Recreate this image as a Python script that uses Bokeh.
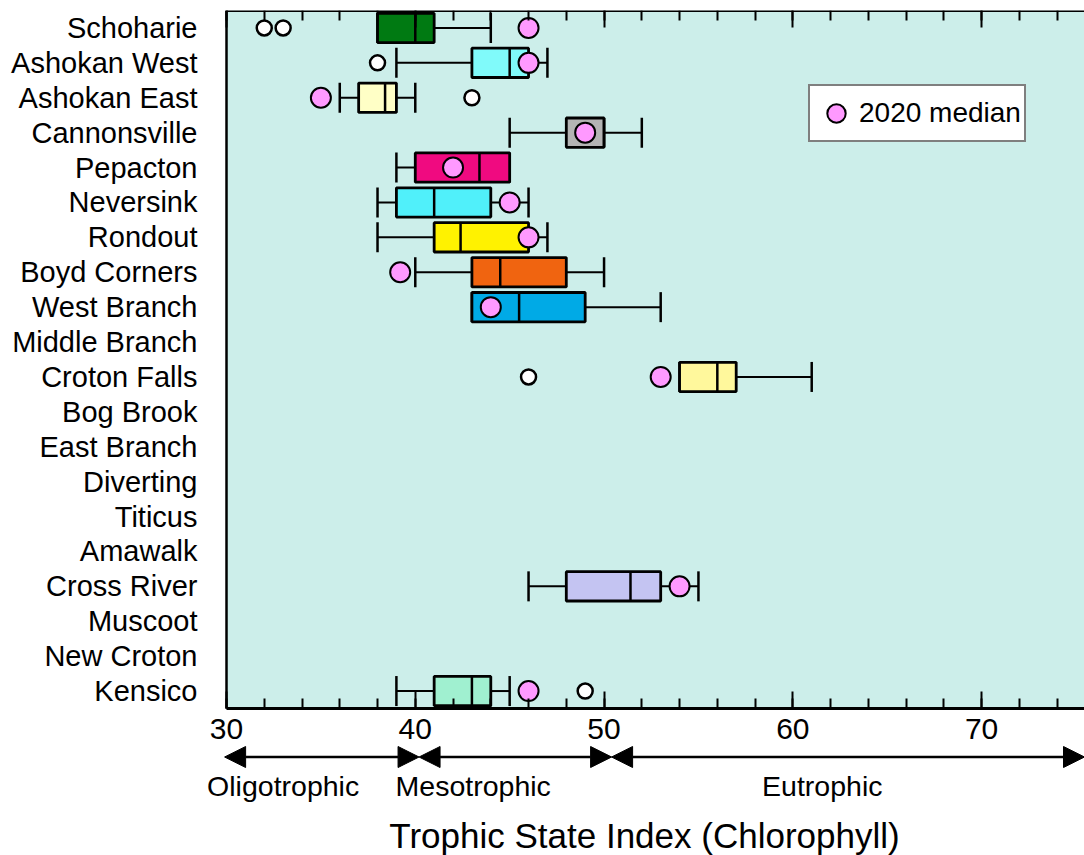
from bokeh.plotting import figure
from bokeh.models import (ColumnDataSource, Range1d, LinearAxis, FixedTicker, BoxAnnotation,
                          Arrow, NormalHead, Legend, LegendItem)
from bokeh.transform import dodge
from bokeh.core.properties import value
from bokeh.embed import file_html
from bokeh.resources import INLINE

# ---------------- data ----------------
reservoirs = ["Schoharie", "Ashokan West", "Ashokan East", "Cannonsville", "Pepacton",
              "Neversink", "Rondout", "Boyd Corners", "West Branch", "Middle Branch",
              "Croton Falls", "Bog Brook", "East Branch", "Diverting", "Titicus",
              "Amawalk", "Cross River", "Muscoot", "New Croton", "Kensico"]

box_names = ["Schoharie", "Ashokan West", "Ashokan East", "Cannonsville", "Pepacton",
             "Neversink", "Rondout", "Boyd Corners", "West Branch", "Croton Falls",
             "Cross River", "Kensico"]
whisker_low = [38, 39, 36, 45, 39, 38, 38, 40, 43, 54, 46, 39]
q1 = [38, 43, 37, 48, 40, 39, 41, 43, 43, 54, 48, 41]
median = [40, 45, 38.4, 50, 43.4, 41, 42.4, 44.5, 45.5, 56, 51.4, 43]
q3 = [41, 46, 39, 50, 45, 44, 46, 48, 49, 57, 53, 44]
whisker_high = [44, 47, 40, 52, 45, 46, 47, 50, 53, 61, 55, 45]
median_2020 = [46, 46, 35, 49, 42, 45, 46, 39.2, 44, 53, 54, 46]
box_colors = ["#007A12", "#80FAFA", "#FFFFC6", "#B4B4B4", "#F00A80", "#50F0FA",
              "#FFF200", "#F06410", "#00AAE6", "#FFF89C", "#C4C4F2", "#A0F0D0"]

outlier_names = ["Schoharie", "Schoharie", "Ashokan West", "Ashokan East",
                 "Croton Falls", "Kensico"]
outlier_values = [32, 33, 38, 43, 46, 49]

tick_values = [30, 40, 50, 60, 70]
minor_tick_values = list(range(30, 76, 2))

class_names = ["Oligotrophic", "Mesotrophic", "Eutrophic"]
class_edges = [29.9, 40.2, 50.4, 75.45]
class_label_x = [33.0, 43.07, 61.56]

x_title = "Trophic State Index  (Chlorophyll)"

# ---------------- geometry ----------------
W, H = 1084, 855
X_START, X_END = 30, 75.45          # data extent of the plotting area
PLOT_LEFT_PX = 226                  # where x = 30 sits on the page
TOP_PX = 10
ROW_PX = 34.9                       # height of one reservoir row
N = len(reservoirs)
px_per_unit = (W - PLOT_LEFT_PX) / (X_END - X_START)
x_lo = X_START - PLOT_LEFT_PX / px_per_unit
y_top = N - 0.5
y_bottom = y_top - (H - TOP_PX) / ROW_PX


def y_at_px(py):
    """vertical data position of a page pixel row"""
    return y_top - (py - TOP_PX) / ROW_PX


row_of = {name: N - 1 - i for i, name in enumerate(reservoirs)}
FONT = "Liberation Sans"

p = figure(width=W, height=H,
           x_range=Range1d(x_lo, X_END), y_range=Range1d(y_bottom, y_top),
           output_backend="svg", toolbar_location=None,
           min_border_left=0, min_border_right=0, min_border_top=TOP_PX, min_border_bottom=0,
           background_fill_color="white", border_fill_color="white",
           outline_line_color=None)
p.xgrid.visible = False
p.ygrid.visible = False

# plotting-area background
p.add_layout(BoxAnnotation(left=X_START, bottom=-0.5, fill_color="#CCEEEA", fill_alpha=1.0,
                           line_color=None, level="underlay"))

# bottom axis
xa = p.xaxis[0]
xa.fixed_location = -0.5
xa.bounds = (X_START, X_END)
xa.ticker = FixedTicker(ticks=tick_values, minor_ticks=minor_tick_values)
xa.major_tick_in = 17
xa.major_tick_out = 0
xa.minor_tick_in = 10
xa.minor_tick_out = 0
xa.major_tick_line_width = 2
xa.minor_tick_line_width = 2
xa.axis_line_width = 3
xa.axis_line_color = "black"
xa.major_tick_line_color = "black"
xa.minor_tick_line_color = "black"
xa.major_label_text_font = FONT
xa.major_label_text_font_size = "30px"
xa.major_label_text_color = "black"
xa.major_label_standoff = 10

# top axis (ticks only, no labels)
top = LinearAxis(ticker=FixedTicker(ticks=tick_values, minor_ticks=minor_tick_values),
                 fixed_location=y_top, bounds=(X_START, X_END),
                 major_tick_in=17, major_tick_out=0, minor_tick_in=10, minor_tick_out=0,
                 major_tick_line_width=2, minor_tick_line_width=2,
                 major_tick_line_color="black", minor_tick_line_color="black",
                 axis_line_width=3, axis_line_color="black",
                 major_label_text_color=None, major_label_text_font_size="10px",
                 major_label_standoff=0)
p.add_layout(top, "above")

# left axis with reservoir names
ya = p.yaxis[0]
ya.fixed_location = X_START
ya.bounds = (-0.5, y_top)
ya.ticker = FixedTicker(ticks=list(range(N)), minor_ticks=[])
ya.major_label_overrides = {row_of[n]: n for n in reservoirs}
ya.major_tick_line_color = None
ya.minor_tick_line_color = None
ya.major_tick_out = 0
ya.axis_line_width = 2.5
ya.axis_line_color = "black"
ya.major_label_text_font = FONT
ya.major_label_text_font_size = "29px"
ya.major_label_text_color = "black"
ya.major_label_standoff = 29

src = ColumnDataSource(dict(name=box_names, y=[row_of[n] for n in box_names],
                            lo=whisker_low, q1=q1, med=median, q3=q3,
                            hi=whisker_high, m20=median_2020, color=box_colors))

# whiskers
p.segment(x0="lo", x1="q1", y0="y", y1="y", source=src, line_color="black", line_width=2)
p.segment(x0="q3", x1="hi", y0="y", y1="y", source=src, line_color="black", line_width=2)
# caps
p.segment(x0="lo", x1="lo", y0=dodge("y", -0.43), y1=dodge("y", 0.43), source=src,
          line_color="black", line_width=2.5)
p.segment(x0="hi", x1="hi", y0=dodge("y", -0.43), y1=dodge("y", 0.43), source=src,
          line_color="black", line_width=2.5)
# boxes
p.hbar(y="y", left="q1", right="q3", height=0.84, source=src,
       fill_color="color", line_color="black", line_width=2.8)
# medians
p.segment(x0="med", x1="med", y0=dodge("y", -0.42), y1=dodge("y", 0.42), source=src,
          line_color="black", line_width=2.5)
# outliers
osrc = ColumnDataSource(dict(name=outlier_names, y=[row_of[n] for n in outlier_names],
                             v=outlier_values))
p.scatter(x="v", y="y", source=osrc, marker="circle", size=15,
          fill_color="white", line_color="black", line_width=2.5)
# 2020 medians
r20 = p.scatter(x="m20", y="y", source=src, marker="circle", size=20,
                fill_color="#FF99FF", line_color="black", line_width=2)

legend = Legend(items=[LegendItem(label="2020 median", renderers=[r20])],
                location=(808, 713), orientation="vertical",
                padding=3, spacing=0, margin=0, glyph_width=46, glyph_height=48,
                label_standoff=0, label_text_font=FONT, label_text_font_size="28px",
                label_text_color="black", label_text_baseline="middle",
                border_line_color="black", border_line_width=2,
                background_fill_color="white", background_fill_alpha=1.0)
p.add_layout(legend)

# ---------------- trophic classes & axis title ----------------
arrow_y = y_at_px(756.5)
for a, b in zip(class_edges[:-1], class_edges[1:]):
    p.add_layout(Arrow(x_start=a, x_end=b, y_start=arrow_y, y_end=arrow_y,
                       line_color="black", line_width=2.5,
                       start=NormalHead(size=21, fill_color="black", line_color="black", line_width=1),
                       end=NormalHead(size=21, fill_color="black", line_color="black", line_width=1)))

p.text(x=class_label_x, y=[y_at_px(785)] * len(class_names), text=class_names,
       text_align="center", text_baseline="alphabetic",
       text_font=value(FONT), text_font_size="28.5px", text_color="black")
p.text(x=[52.4], y=[y_at_px(835)], text=[x_title],
       text_align="center", text_baseline="alphabetic",
       text_font=value(FONT), text_font_size="35px", text_color="black")

open("out.html", "w").write(file_html(p, INLINE))
